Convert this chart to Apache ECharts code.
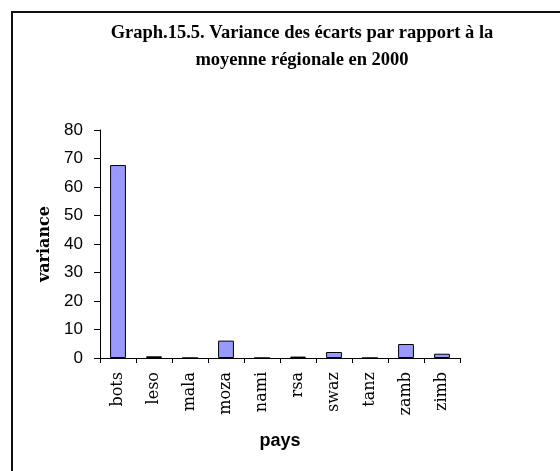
<!DOCTYPE html>
<html>
<head>
<meta charset="utf-8">
<script src="https://cdn.jsdelivr.net/npm/echarts@6/dist/echarts.min.js"></script>
<style>
  html, body { margin: 0; padding: 0; background: #fff; }
  #chart { width: 560px; height: 471px; }
</style>
</head>
<body>
<div id="chart"></div>
<script>
const countries = ['bots', 'leso', 'mala', 'moza', 'nami', 'rsa', 'swaz', 'tanz', 'zamb', 'zimb']
const variances = [67.7, 0.6, 0, 6.1, 0, 0.5, 2.1, 0, 4.9, 1.5]
const titleLines = ['Graph.15.5. Variance des écarts par rapport à la', 'moyenne régionale en 2000']

const chart = echarts.init(document.getElementById('chart'), null, { renderer: 'canvas' })

chart.setOption({
  backgroundColor: '#fff',
  animation: false,
  title: {
    text: titleLines.join('\n'),
    left: 297,
    top: 15,
    textAlign: 'center',
    textStyle: {
      fontFamily: 'Liberation Serif',
      fontWeight: 'bold',
      fontSize: 18.5,
      lineHeight: 27,
      color: '#000'
    }
  },
  graphic: [
    {
      // chart frame, only its top and left edges fall inside the picture
      type: 'rect',
      shape: { x: 12, y: 12, width: 600, height: 500 },
      style: { fill: 'none', stroke: '#111', lineWidth: 2 },
      z: -1
    }
  ],
  grid: {
    left: 100,
    right: 100,
    top: 130,
    bottom: 113,
    containLabel: false
  },
  xAxis: {
    type: 'category',
    data: countries,
    name: 'pays',
    nameLocation: 'middle',
    nameGap: 74,
    nameTextStyle: {
      fontFamily: 'Liberation Sans',
      fontWeight: 'bold',
      fontSize: 18,
      color: '#000'
    },
    axisLine: { lineStyle: { color: '#000', width: 1 } },
    axisTick: { show: true, alignWithLabel: false, length: 5, lineStyle: { color: '#000' } },
    axisLabel: {
      rotate: 90,
      margin: 14,
      fontFamily: 'DejaVu Serif',
      fontSize: 16,
      color: '#000'
    }
  },
  yAxis: {
    type: 'value',
    min: 0,
    max: 80,
    interval: 10,
    name: 'variance',
    nameLocation: 'middle',
    nameGap: 47,
    nameRotate: 90,
    nameTextStyle: {
      fontFamily: 'DejaVu Serif',
      fontWeight: 'bold',
      fontSize: 16,
      color: '#000'
    },
    axisLine: { show: true, lineStyle: { color: '#000', width: 1 } },
    axisTick: { show: true, length: 6, lineStyle: { color: '#000' } },
    splitLine: { show: false },
    axisLabel: {
      margin: 17,
      fontFamily: 'Liberation Sans',
      fontSize: 17,
      color: '#000'
    }
  },
  series: [
    {
      type: 'bar',
      data: variances,
      barCategoryGap: '56%',
      itemStyle: {
        color: '#9999ff',
        borderColor: '#000',
        borderWidth: 1
      }
    }
  ]
})
</script>
</body>
</html>
